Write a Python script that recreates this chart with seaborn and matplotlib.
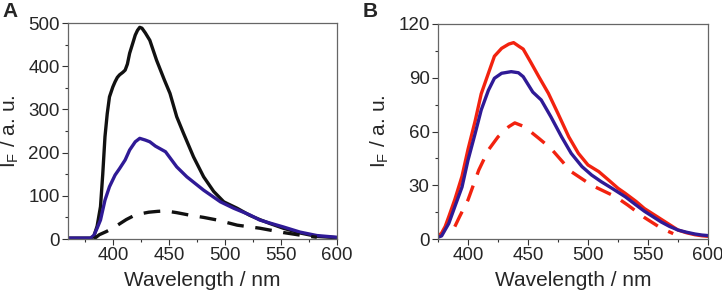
import matplotlib
matplotlib.use("Agg")
import matplotlib.pyplot as plt
import seaborn as sns
from matplotlib.ticker import MultipleLocator

# ---------------- Panel A data ----------------
a_black_wl = [360, 370, 380, 383, 386, 389, 391, 393, 395, 397, 400, 402, 404, 406, 409, 411, 413, 415,
              418, 420, 422, 424, 426, 429, 433, 439, 446, 451, 457, 463, 472, 481, 490, 499, 511, 522,
              531, 540, 552, 567, 582, 600]
a_black_if = [2, 2, 2, 6, 30, 75, 150, 237, 290, 329, 352, 364, 374, 380, 386, 391, 405, 430,
              455, 472, 483, 490, 488, 477, 460, 414, 368, 337, 283, 245, 190, 144, 110, 86, 71, 55,
              45, 36, 25, 14, 6, 3]

a_blue_wl = [360, 370, 380, 383, 386, 389, 393, 397, 402, 406, 411, 415, 420, 424, 429, 433, 438,
             447, 457, 466, 481, 496, 508, 522, 531, 540, 552, 567, 582, 600]
a_blue_if = [2, 2, 2, 8, 25, 44, 90, 121, 148, 163, 183, 206, 225, 233, 229, 225, 215,
             202, 167, 144, 113, 86, 71, 56, 44, 37, 28, 16, 8, 4]

a_dash_wl = [383, 388, 394, 400, 406, 412, 418, 424, 432, 440, 447, 457, 469, 481, 493, 511,
             531, 552, 567, 582]
a_dash_if = [0, 10, 17, 25, 35, 45, 53, 58, 62, 64, 65, 61, 55, 50, 44, 32,
             25, 15, 9, 4]

# ---------------- Panel B data ----------------
b_red_wl = [375, 378, 381, 384, 389, 395, 400, 406, 411, 417, 422, 428, 434, 438, 443, 446, 452,
            459, 467, 475, 484, 492, 500, 509, 517, 525, 531, 540, 547, 554, 561, 568, 575, 582,
            589, 595, 600]
b_red_if = [1.5, 3.3, 7, 12.5, 22, 35, 50, 66, 81, 92.5, 102, 106.4, 108.8, 109.6, 107.3, 106, 99,
            90.6, 81.3, 70, 57, 47.8, 41.3, 37.6, 33, 28.3, 25.5, 21, 17, 14, 11, 8, 5, 3.5,
            2.4, 1.8, 1.5]

b_blue_wl = [375, 378, 384, 389, 395, 400, 406, 411, 417, 422, 428, 436, 442, 446, 454, 461, 469,
             478, 486, 495, 503, 511, 520, 531, 540, 547, 554, 561, 568, 575, 582, 589, 595, 600]
b_blue_if = [1, 1.7, 8.7, 18, 29, 44, 59, 72, 83, 89.7, 92.5, 93.4, 92.8, 90.6, 82, 77.6, 68.3,
             57, 47.8, 40.4, 35.7, 32, 28.3, 23.6, 19, 15.5, 12.5, 9.5, 7, 5, 3.8, 2.8, 2.2, 1.9]

b_dash_wl = [389, 393, 400, 409, 417, 425, 434, 439, 447, 459, 469, 475, 486, 503, 523,
             533, 547, 561, 571]
b_dash_if = [6.9, 12.5, 21.8, 38.5, 49.7, 57, 62.7, 64.8, 62.7, 56.2, 50.6, 46, 37.6, 30, 23.6,
             19, 12, 6, 3]

x_ticks_a = [400, 450, 500, 550, 600]
y_ticks_a = [0, 100, 200, 300, 400, 500]
x_ticks_b = [400, 450, 500, 550, 600]
y_ticks_b = [0, 30, 60, 90, 120]

BLACK = "#111111"
BLUE = "#2f1a96"
RED = "#f2220f"

sns.set_theme(style="white")
plt.rcParams["font.family"] = ["Liberation Sans", "DejaVu Sans"]
plt.rcParams["mathtext.fontset"] = "custom"
plt.rcParams["mathtext.rm"] = "Liberation Sans"
plt.rcParams["mathtext.it"] = "Liberation Sans:italic"

fig = plt.figure(figsize=(7.22, 2.97), dpi=100)
axA = fig.add_axes([68 / 722, 1 - 239 / 297, 269 / 722, 216 / 297])
axB = fig.add_axes([438 / 722, 1 - 239 / 297, 270 / 722, 215 / 297])

LW = 2.4
DASH = (0, (5, 3.5))
sns.lineplot(x=a_black_wl, y=a_black_if, color=BLACK, lw=LW, ax=axA, estimator=None, sort=False)
sns.lineplot(x=a_blue_wl, y=a_blue_if, color=BLUE, lw=LW, ax=axA, estimator=None, sort=False)
sns.lineplot(x=a_dash_wl, y=a_dash_if, color=BLACK, lw=LW, ax=axA, estimator=None, sort=False,
             linestyle=DASH)

sns.lineplot(x=b_red_wl, y=b_red_if, color=RED, lw=LW, ax=axB, estimator=None, sort=False)
sns.lineplot(x=b_blue_wl, y=b_blue_if, color=BLUE, lw=LW, ax=axB, estimator=None, sort=False)
sns.lineplot(x=b_dash_wl, y=b_dash_if, color=RED, lw=LW, ax=axB, estimator=None, sort=False,
             linestyle=DASH)

def style(ax, xlim, ylim, xt, yt, xminor, yminor):
    ax.set_xlim(*xlim)
    ax.set_ylim(*ylim)
    ax.set_xticks(xt)
    ax.set_yticks(yt)
    ax.xaxis.set_minor_locator(MultipleLocator(xminor))
    ax.yaxis.set_minor_locator(MultipleLocator(yminor))
    ax.tick_params(which="major", direction="out", length=4, width=0.8, color="#333333",
                   labelsize=13.5, pad=2, bottom=True, left=True)
    ax.tick_params(which="minor", direction="out", length=2.5, width=0.8, color="#333333",
                   bottom=True, left=True)
    for s in ax.spines.values():
        s.set_color("#666666")
        s.set_linewidth(0.9)
    ax.set_xlabel("Wavelength / nm", fontsize=15, labelpad=5)
    ax.set_ylabel(r"I$_\mathrm{F}$ / a. u.", fontsize=15, labelpad=5)

style(axA, (360, 600), (0, 500), x_ticks_a, y_ticks_a, 25, 50)
style(axB, (375, 600), (0, 120), x_ticks_b, y_ticks_b, 25, 15)

fig.text(2 / 722, 1 - 2 / 297, "A", fontsize=15, fontweight="bold", ha="left", va="top")
fig.text(363 / 722, 1 - 2 / 297, "B", fontsize=15, fontweight="bold", ha="left", va="top")

fig.savefig("out.png", dpi=100)
